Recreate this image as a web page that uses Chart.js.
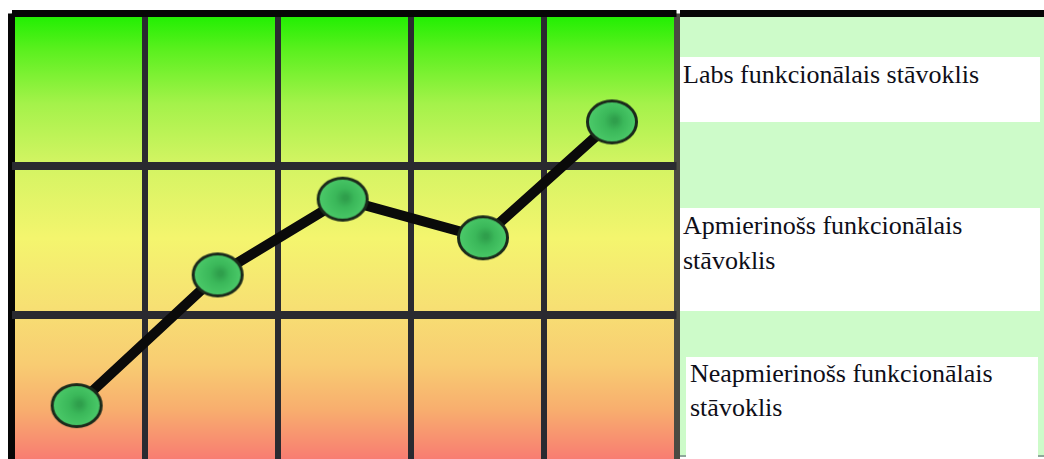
<!DOCTYPE html>
<html lang="lv">

<head>
    <meta charset="UTF-8">
    <meta name="viewport" content="width=device-width, initial-scale=1.0">
    <title>Funkcionālais stāvoklis</title>
    <style>
        html, body { margin: 0; padding: 0; background: #fff; overflow: hidden; }
        #wrap { position: relative; width: 1044px; height: 466px; }
        #chartBox { position: absolute; left: 0; top: 0; width: 680px; height: 466px; }
        #panel {
            position: absolute; left: 680px; top: 10px; width: 364px; height: 447px;
            background: #cdfbc9; border-top: 7px solid #050505; border-bottom: 2px solid #8fa89a;
            box-sizing: border-box;
        }
        .lvl {
            position: absolute; background: #fff; color: #0e0e18;
            font-family: "Liberation Serif", "DejaVu Serif", serif; font-size: 26px;
        }
    </style>
</head>

<body>
    <div id="wrap">
        <div id="chartBox"><canvas id="myChart"></canvas></div>
        <div id="panel">
            <div class="lvl" id="lvl0" style="left:0;top:40px;width:360px;height:65px;line-height:35px;padding-left:3px;box-sizing:border-box"></div>
            <div class="lvl" id="lvl1" style="left:0;top:191px;width:360px;height:103px;line-height:35px;padding-left:3px;box-sizing:border-box"></div>
            <div class="lvl" id="lvl2" style="left:6px;top:340px;width:352px;height:110px;line-height:34px;padding-left:4px;box-sizing:border-box"></div>
        </div>
    </div>

    <script src="https://cdn.jsdelivr.net/npm/chart.js@4"></script>
    <script>
        // data
        var xValues = [0.49, 1.55, 2.49, 3.545, 4.515];
        var yValues = [0.39, 1.27, 1.78, 1.52, 2.3];
        var xGrid = [0, 1, 2, 3, 4, 5];
        var yGrid = [1, 2, 3.03];
        var levelLabels = ['Labs funkcionālais stāvoklis', 'Apmierinošs funkcionālais<br>stāvoklis', 'Neapmierinošs funkcionālais<br>stāvoklis'];

        document.getElementById('lvl0').innerHTML = levelLabels[0];
        document.getElementById('lvl1').innerHTML = levelLabels[1];
        document.getElementById('lvl2').innerHTML = levelLabels[2];

        // green oval marker
        var dot = document.createElement('canvas');
        dot.width = 54; dot.height = 47;
        var dc = dot.getContext('2d');
        var rg = dc.createRadialGradient(30, 22, 2, 27, 23, 24);
        rg.addColorStop(0, '#2f9f4c');
        rg.addColorStop(0.35, '#3bb85a');
        rg.addColorStop(1, '#4ccb6a');
        dc.beginPath();
        dc.ellipse(27, 23.5, 24.5, 21, 0, 0, Math.PI * 2);
        dc.fillStyle = rg;
        dc.fill();
        dc.lineWidth = 3;
        dc.strokeStyle = '#1b2a1b';
        dc.stroke();

        var bgPlugin = {
            id: 'bgGrad',
            beforeDraw: function (chart) {
                var a = chart.chartArea, c = chart.ctx;
                var g = c.createLinearGradient(0, a.top, 0, a.bottom);
                g.addColorStop(0, '#1def00');
                g.addColorStop(0.08, '#5af01e');
                g.addColorStop(0.2, '#a4f24a');
                g.addColorStop(0.33, '#d2f462');
                g.addColorStop(0.5, '#f4f56e');
                g.addColorStop(0.65, '#f7e073');
                g.addColorStop(0.78, '#f8cc72');
                g.addColorStop(0.88, '#f8ae6e');
                g.addColorStop(1, '#f87872');
                c.save();
                c.fillStyle = g;
                c.fillRect(a.left, a.top, a.right - a.left, a.bottom - a.top);
                c.restore();
            }
        };

        var pts = xValues.map(function (x, i) { return { x: x, y: yValues[i] }; });

        var ctx = document.getElementById('myChart').getContext('2d');
        var chart = new Chart(ctx, {
            type: 'line',
            data: {
                datasets: [{
                    data: pts,
                    borderColor: '#0a0a0a',
                    borderWidth: 10,
                    pointStyle: dot,
                    pointRadius: 24,
                    pointHoverRadius: 24,
                    tension: 0,
                    clip: false
                }]
            },
            options: {
                responsive: true,
                maintainAspectRatio: false,
                animation: false,
                events: [],
                layout: { autoPadding: false, padding: { left: 11.5, top: 13.5, right: 3.5, bottom: 2.5 } },
                plugins: { legend: { display: false }, tooltip: { enabled: false } },
                scales: {
                    x: {
                        type: 'linear', min: 0, max: 5,
                        afterBuildTicks: function (s) { s.ticks = xGrid.map(function (v) { return { value: v }; }); },
                        ticks: { display: false },
                        border: { display: false },
                        grid: {
                            drawTicks: false,
                            lineWidth: function (c) { return c.index === 0 ? 7 : 6; },
                            color: function (c) {
                                if (c.index === 0) return '#060606';
                                if (c.index === 5) return '#4a4a42';
                                return '#2a2a30';
                            }
                        }
                    },
                    y: {
                        type: 'linear', min: 0, max: 3.03,
                        afterBuildTicks: function (s) { s.ticks = yGrid.map(function (v) { return { value: v }; }); },
                        ticks: { display: false },
                        border: { display: false },
                        grid: {
                            drawTicks: false,
                            lineWidth: function (c) { return c.index === 2 ? 7 : 8; },
                            color: function (c) { return c.index === 2 ? '#060606' : '#2a2a30'; }
                        }
                    }
                }
            },
            plugins: [bgPlugin]
        });
    </script>
</body>

</html>
